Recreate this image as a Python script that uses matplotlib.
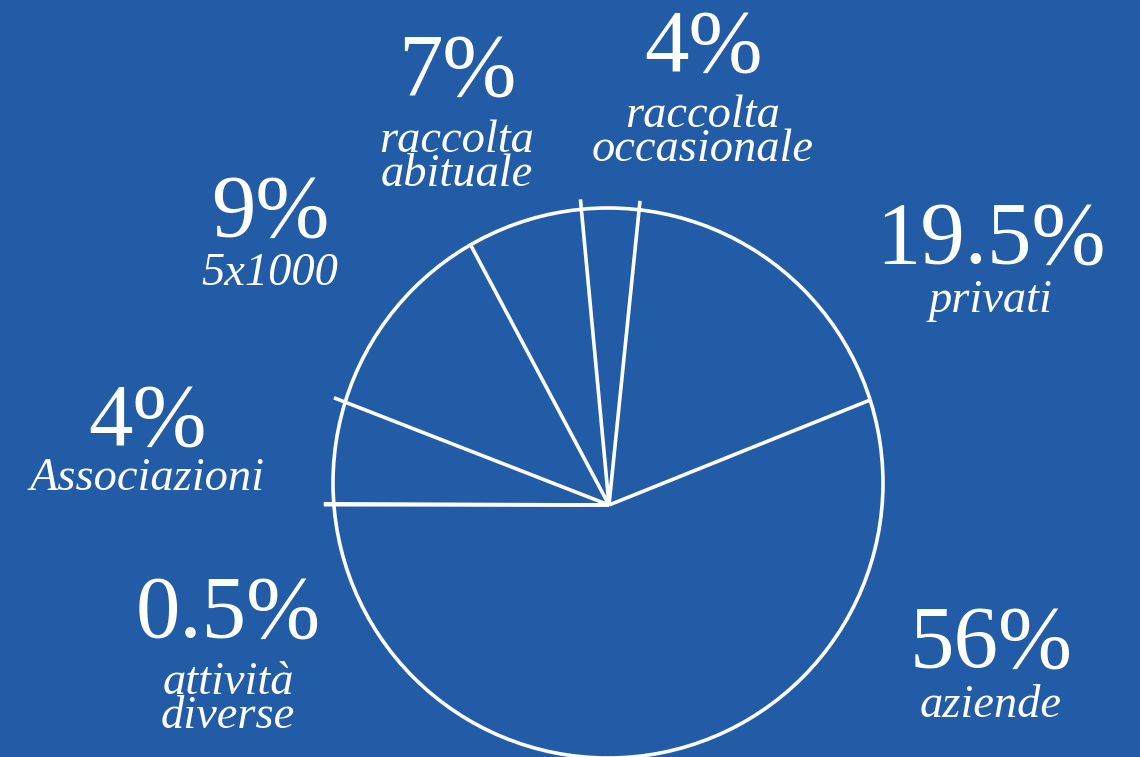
import numpy as np
import matplotlib
matplotlib.use("Agg")
import matplotlib.pyplot as plt
from matplotlib.patches import Circle

# label values (as printed) and the slice sizes as they are drawn in the picture
categories = ["aziende", "attività\ndiverse", "Associazioni", "5x1000",
              "raccolta\nabituale", "raccolta\noccasionale", "privati"]
shares = ["56%", "0.5%", "4%", "9%", "7%", "4%", "19.5%"]
drawn_shares = [56.1, 0.05, 5.85, 11.3, 6.3, 3.1, 17.2]
start_angle = 21.9  # degrees, boundary privati / aziende; slices go clockwise

BG = "#225ba6"
W, H = 1140, 757

fig = plt.figure(figsize=(W / 100, H / 100), dpi=100, facecolor=BG)
ax = fig.add_axes([0, 0, 1, 1])
ax.set_facecolor(BG)
ax.set_xlim(0, W)
ax.set_ylim(H, 0)
ax.axis("off")

# outer circle and apex of the slices (pixel coordinates)
circ_c = np.array([608.0, 483.0])
circ_r = 275.0
apex = np.array([609.0, 505.0])
ax.add_patch(Circle(circ_c, circ_r, fill=False, edgecolor="white", lw=2.6))

# how far some separators poke out past the circle
overshoot = [0, 10, 10, 12, 0, 10, 9]

bounds = start_angle - 3.6 * np.concatenate([[0], np.cumsum(drawn_shares)[:-1]])
for ang, extra in zip(bounds, overshoot):
    d = np.array([np.cos(np.radians(ang)), -np.sin(np.radians(ang))])
    rel = apex - circ_c
    b = d @ rel
    c = rel @ rel - circ_r ** 2
    t = -b + np.sqrt(b * b - c) + extra
    end = apex + t * d
    ax.plot([apex[0], end[0]], [apex[1], end[1]], color="white", lw=2.6,
            solid_capstyle="butt")

serif = ["Liberation Serif", "DejaVu Serif"]

# label anchor: (x centre, y centre of the percentage, y centre of the caption)
label_pos = [(991, 645, 706), (228, 615, 700), (147, 423, 479), (270, 214, 274),
             (457, 73, 158), (703, 49, 133), (991, 241, 301)]

for pct, cat, (x, y1, y2) in zip(shares, categories, label_pos):
    ax.text(x, y1, pct, color="white", fontsize=64, family=serif,
            ha="center", va="center")
    ax.text(x, y2, cat, color="white", fontsize=33.5, family=serif,
            style="italic", ha="center", va="center", linespacing=0.74)

fig.savefig("out.png", dpi=100, facecolor=BG)
